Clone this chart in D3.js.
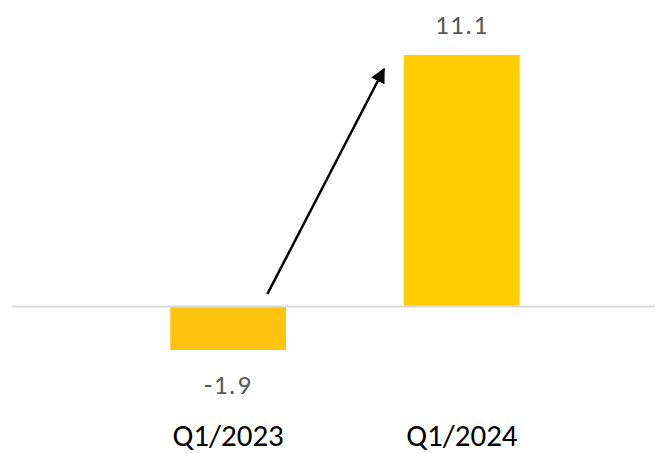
<!DOCTYPE html>
<html>
<head>
<meta charset="utf-8">
<script src="https://cdn.jsdelivr.net/npm/d3@7"></script>
<style>
  html, body { margin: 0; padding: 0; background: #fff; }
  svg { display: block; }
</style>
</head>
<body>
<div id="chart"></div>
<script>
// data
var categories = ["Q1/2023", "Q1/2024"];
var values = [-1.9, 11.1];
var valueLabels = ["-1.9", "11.1"];
var barColors = ["#FFC20E", "#FFCC00"];

var width = 664, height = 453;

var svg = d3.select("#chart").append("svg")
  .attr("width", width)
  .attr("height", height);

/* Scales */
var x = d3.scaleBand()
  .domain(categories)
  .range([23, 667])
  .paddingInner(0.505)
  .paddingOuter(0.63);

var y = d3.scaleLinear()
  .domain([-1.9, 11.1])
  .range([350, 55]);

/* Bars */
svg.append("g")
  .selectAll("rect")
  .data(values)
  .enter()
  .append("rect")
  .attr("x", (d, i) => x(categories[i]))
  .attr("width", x.bandwidth())
  .attr("y", d => y(Math.max(0, d)))
  .attr("height", d => Math.abs(y(d) - y(0)))
  .style("fill", (d, i) => barColors[i]);

/* zero line */
svg.append("line")
  .attr("x1", 12)
  .attr("x2", 655)
  .attr("y1", y(0) - 0.5)
  .attr("y2", y(0) - 0.5)
  .style("stroke", "#D9D9D9")
  .style("stroke-width", 2);

/* value labels */
svg.append("g")
  .selectAll("text")
  .data(values)
  .enter()
  .append("text")
  .attr("x", (d, i) => x(categories[i]) + x.bandwidth() / 2)
  .attr("y", d => d < 0 ? y(d) + 44 : y(d) - 21)
  .attr("text-anchor", "middle")
  .style("font-family", "Carlito, Calibri, 'Liberation Sans', sans-serif")
  .style("font-size", "27px")
  .style("letter-spacing", "1.5px")
  .style("fill", "#595959")
  .text((d, i) => valueLabels[i]);

/* category axis labels */
var xAxis = d3.axisBottom(x).tickSize(0).tickPadding(0);
var gx = svg.append("g")
  .attr("transform", "translate(0, 446)")
  .call(xAxis);
gx.select(".domain").remove();
gx.selectAll("text")
  .attr("dy", 0)
  .style("font-family", "Carlito, Calibri, 'Liberation Sans', sans-serif")
  .style("font-size", "31px")
  .style("fill", "#000");

/* arrow annotation */
svg.append("defs").append("marker")
  .attr("id", "head")
  .attr("viewBox", "0 0 10 10")
  .attr("refX", 9)
  .attr("refY", 5)
  .attr("markerWidth", 6)
  .attr("markerHeight", 6)
  .attr("markerUnits", "strokeWidth")
  .attr("orient", "auto")
  .append("path")
  .attr("d", "M0,0 L10,5 L0,10 z")
  .style("fill", "#000");

svg.append("line")
  .attr("x1", x(categories[0]) + x.bandwidth() * 0.84)
  .attr("y1", y(0) - 13)
  .attr("x2", x(categories[1]) - 20)
  .attr("y2", y(values[1]) + 14)
  .style("stroke", "#000")
  .style("stroke-width", 2.5)
  .attr("marker-end", "url(#head)");
</script>
</body>
</html>
